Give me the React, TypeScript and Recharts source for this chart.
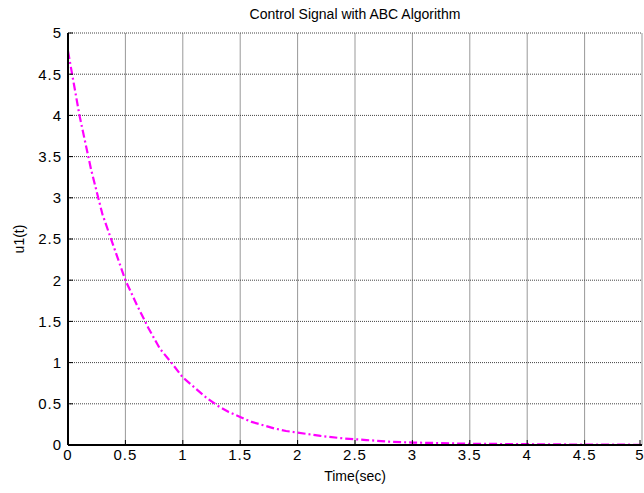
import React from 'react';
import { LineChart, Line, XAxis, YAxis, CartesianGrid } from 'recharts';

const timeSec = [0, 0.1, 0.2, 0.3, 0.4, 0.5, 0.6, 0.7, 0.8, 0.9, 1.0, 1.1, 1.2, 1.3, 1.4, 1.5, 1.6, 1.7, 1.8, 1.9, 2.0, 2.2, 2.4, 2.6, 2.8, 3.0, 3.5, 4.0, 4.5, 5.0];
const u1Values = [4.78, 4.0, 3.35, 2.8, 2.4, 2.0, 1.7, 1.42, 1.17, 1.0, 0.82, 0.7, 0.58, 0.48, 0.4, 0.34, 0.28, 0.24, 0.2, 0.17, 0.15, 0.11, 0.08, 0.06, 0.04, 0.03, 0.015, 0.01, 0.005, 0.003];
const axisTicks = [0, 0.5, 1, 1.5, 2, 2.5, 3, 3.5, 4, 4.5, 5];

const data = timeSec.map((t, i) => ({ t, u1: u1Values[i] }));

const FONT = '"Liberation Sans", Arial, sans-serif';
const TICK_LEN = 5;
const MARGIN = 4;

// bottom axis: labels below, tick marks pointing inward (up)
const BottomTick = ({ x, y, payload }: any) => (
  <g>
    <line x1={x} y1={y - MARGIN} x2={x} y2={y - MARGIN - TICK_LEN} stroke="#000" />
    <text x={x} y={y} dy="0.71em" textAnchor="middle" fontFamily={FONT} fontSize={15} letterSpacing={1} fill="#000">
      {payload.value}
    </text>
  </g>
);

const LeftTick = ({ x, y, payload }: any) => (
  <g>
    <line x1={x + MARGIN + 2} y1={y} x2={x + MARGIN + 2 + TICK_LEN} y2={y} stroke="#000" />
    <text x={x} y={y} dy="0.355em" textAnchor="end" fontFamily={FONT} fontSize={15} letterSpacing={1} fill="#000">
      {payload.value}
    </text>
  </g>
);

const TopTick = ({ x, y }: any) => <line x1={x} y1={y} x2={x} y2={y + TICK_LEN} stroke="#000" />;
const RightTick = ({ x, y }: any) => <line x1={x - TICK_LEN} y1={y} x2={x} y2={y} stroke="#000" />;

export default function App() {
  return (
    <div style={{ position: 'absolute', left: 0, top: 0, width: 644, height: 493, background: '#fff' }}>
      <div
        style={{
          position: 'absolute',
          left: 68,
          width: 574,
          top: 5,
          textAlign: 'center',
          fontFamily: FONT,
          fontSize: 14,
          lineHeight: '18px',
          color: '#000',
        }}
      >
        Control Signal with ABC Algorithm
      </div>
      <LineChart width={644} height={493} data={data} margin={{ top: 33, right: 2, left: 0, bottom: 12 }}>
        <CartesianGrid horizontal={false} stroke="#999" />
        <CartesianGrid vertical={false} stroke="#444" strokeDasharray="1 1" />
        <XAxis
          dataKey="t"
          type="number"
          domain={[0, 5]}
          ticks={axisTicks}
          height={36}
          tickSize={0}
          tickMargin={MARGIN}
          tick={<BottomTick />}
          axisLine={{ stroke: '#000', strokeWidth: 2 }}
          label={{ value: 'Time(sec)', position: 'insideBottom', offset: 0, fontFamily: FONT, fontSize: 14, fill: '#000' }}
        />
        <XAxis
          xAxisId="top"
          dataKey="t"
          type="number"
          orientation="top"
          domain={[0, 5]}
          ticks={axisTicks}
          height={0}
          tickSize={0}
          tickMargin={0}
          tick={<TopTick />}
          axisLine={{ stroke: '#000', strokeWidth: 1.5 }}
        />
        <YAxis
          type="number"
          domain={[0, 5]}
          ticks={axisTicks}
          width={68}
          tickSize={0}
          tickMargin={MARGIN + 2}
          tick={<LeftTick />}
          axisLine={{ stroke: '#000', strokeWidth: 2 }}
          label={{ value: 'u1(t)', angle: -90, position: 'insideLeft', offset: 19, style: { textAnchor: 'middle' }, fontFamily: FONT, fontSize: 14, fill: '#000' }}
        />
        <YAxis
          yAxisId="right"
          type="number"
          orientation="right"
          domain={[0, 5]}
          ticks={axisTicks}
          width={0}
          tickSize={0}
          tickMargin={0}
          tick={<RightTick />}
          axisLine={{ stroke: '#000', strokeWidth: 1.5 }}
        />
        <Line
          type="linear"
          dataKey="u1"
          stroke="#ff00ff"
          strokeWidth={2.2}
          strokeDasharray="8 3 2 3"
          dot={false}
          isAnimationActive={false}
        />
      </LineChart>
    </div>
  );
}
